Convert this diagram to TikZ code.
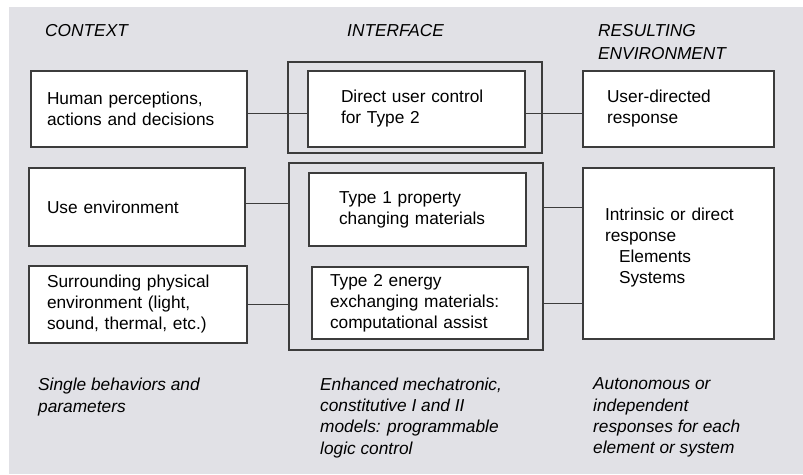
\documentclass[tikz,border=0pt]{standalone}
\usepackage{fontspec}
\setmainfont{Liberation Sans}
\usetikzlibrary{positioning}
\definecolor{panel}{HTML}{E1E1E6}
\definecolor{frame}{HTML}{3C3C3C}
\newcommand{\boxfont}{\fontsize{17.3}{21}\selectfont}
\newcommand{\notefont}{\fontsize{17.3}{21.3}\selectfont\itshape}

\begin{document}
\begin{tikzpicture}[x=1pt, y=-1pt,
    box/.style={rectangle, draw=frame, line width=1.3pt, fill=white, align=left, inner ysep=0pt, font=\boxfont},
    shell/.style={rectangle, draw=frame, line width=1.3pt, inner sep=0pt},
    head/.style={anchor=north west, inner sep=0pt, align=left, font=\boxfont\itshape},
    note/.style={anchor=north west, inner sep=0pt, align=left, font=\notefont},
    wire/.style={draw=frame, line width=1pt}
]
    \useasboundingbox (0,0) rectangle (803,474);
    \fill[panel] (9,7) rectangle (803,474);

    % Column headings
    \node[head] (ctx) at (45,24.6) {CONTEXT};
    \node[head] (ifc) at (347,24.6) {INTERFACE};
    \node[head] (res) at (598,24.6) {RESULTING\\[2pt]ENVIRONMENT};

    % === CONTEXT ===
    \node[box, minimum width=216pt, minimum height=76pt, text width=184pt, inner xsep=16pt] (hum) at (139,109) {Human perceptions,\\actions and decisions};
    \node[box, minimum width=216pt, minimum height=78pt, text width=180pt, inner xsep=18pt] (use) at (137,207) {Use environment};
    \node[box, minimum width=218pt, minimum height=77pt, text width=182pt, inner xsep=18pt] (surr) at (138,304.5) {Surrounding physical\\environment (light,\\sound, thermal, etc.)};

    % === INTERFACE ===
    \node[shell, minimum width=254pt, minimum height=91pt] (ifc1) at (415,107.5) {};
    \node[shell, minimum width=254pt, minimum height=187pt] (ifc2) at (416,256.5) {};
    \node[box, minimum width=217pt, minimum height=76pt, text width=151pt, inner xsep=33pt] (usr) at (416.5,109) {Direct user control\\for Type 2};
    \node[box, minimum width=217pt, minimum height=73pt, text width=157pt, inner xsep=30pt] (typeA) at (417.5,209.5) {Type 1 property\\changing materials};
    \node[box, minimum width=216pt, minimum height=72pt, text width=180pt, inner xsep=18pt] (typeB) at (420,303) {Type 2 energy\\exchanging materials:\\computational assist};

    % === RESULTING ENVIRONMENT ===
    \node[box, minimum width=191pt, minimum height=76pt, text width=143pt, inner xsep=24pt] (resp) at (678.5,109) {User-directed\\response};
    \node[box, minimum width=191pt, minimum height=171pt, text width=147pt, inner xsep=22pt] (intr) at (678.5,253.5) {Intrinsic or direct\\response\\\hspace*{14pt}Elements\\\hspace*{14pt}Systems\\[-6pt]\mbox{}};

    % Connectors
    \draw[wire] ([yshift=-4pt]hum.east) -- ([yshift=-4pt]usr.west);
    \draw[wire] ([yshift=-4pt]usr.east) -- ([yshift=-4pt]resp.west);
    \draw[wire] ([yshift=4pt]use.east) -- ([yshift=4pt]use.east -| ifc2.west);
    \draw[wire] (surr.east) -- (surr.east -| ifc2.west);
    \draw[wire] (ifc2.east |- use) -- (intr.west |- use);
    \draw[wire] (ifc2.east |- typeB) -- (intr.west |- typeB);

    % Notes below
    \node[note] (single) at (38,377.6) {Single behaviors and\\[0.7pt]parameters};
    \node[note] (enh) at (320,377.6) {Enhanced mechatronic,\\constitutive I and II\\models: programmable\\logic control};
    \node[note] (auto) at (593,377.6) {Autonomous or\\independent\\responses for each\\element or system};

\end{tikzpicture}
\end{document}
